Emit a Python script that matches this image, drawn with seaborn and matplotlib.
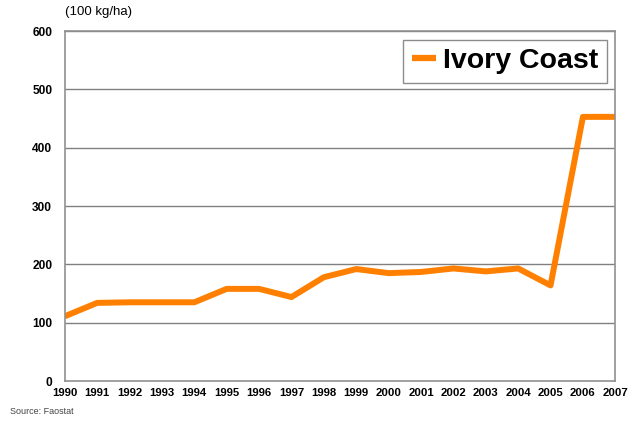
import pandas as pd
import matplotlib
matplotlib.use('Agg')
import matplotlib.pyplot as plt
import seaborn as sns

# data
years = list(range(1990, 2008))
yields = [111, 134, 135, 135, 135, 158, 158, 144, 178, 192,
          185, 187, 193, 188, 193, 164, 453, 453]
country = "Ivory Coast"
y_ticks = [0, 100, 200, 300, 400, 500, 600]

df = pd.DataFrame({"Year": years, "Yield": yields, "Country": country})

sns.set_theme(style="white")
plt.rcParams['font.family'] = ['Liberation Sans', 'DejaVu Sans']
plt.rcParams['text.color'] = 'black'

fig = plt.figure(figsize=(6.35, 4.21), dpi=100)
ax = fig.add_axes([0.102, 0.095, 0.867, 0.831])

sns.lineplot(data=df, x="Year", y="Yield", hue="Country",
             palette=["#FF8000"], linewidth=4.3, ax=ax,
             solid_joinstyle='round', solid_capstyle='butt')

ax.set_xlim(1990, 2007)
ax.set_ylim(0, 600)
ax.set_yticks(y_ticks)
ax.set_xticks(years)
ax.set_xticklabels([str(y) for y in years], fontsize=8.2, fontweight='bold')
ax.set_yticklabels([str(t) for t in y_ticks], fontsize=8.6, fontweight='bold')
ax.tick_params(axis='x', length=0, pad=5, colors='black')
ax.tick_params(axis='y', length=0, pad=9, colors='black')
ax.set_xlabel("")
ax.set_ylabel("")

for t in y_ticks[1:]:
    ax.axhline(t, color="#808080", linewidth=1.0, zorder=0)

for side in ax.spines.values():
    side.set_color("#909090")
    side.set_linewidth(1.2)

leg = ax.legend(loc="upper right", bbox_to_anchor=(0.985, 0.976),
                borderaxespad=0, frameon=True, fancybox=False,
                handlelength=0.85, handletextpad=0.25, borderpad=0.3,
                edgecolor="#707070", prop={'weight': 'bold', 'size': 20.5})
leg.get_frame().set_linewidth(1.0)
for line in leg.get_lines():
    line.set_linewidth(4.5)
for txt in leg.get_texts():
    txt.set_color('black')

fig.text(0.102, 0.958, "(100 kg/ha)", fontsize=9.5, ha="left", va="bottom")
fig.text(0.016, 0.012, "Source: Faostat", fontsize=6.5, color="#444444",
         ha="left", va="bottom")

plt.savefig("out.png", dpi=100)
plt.close()
